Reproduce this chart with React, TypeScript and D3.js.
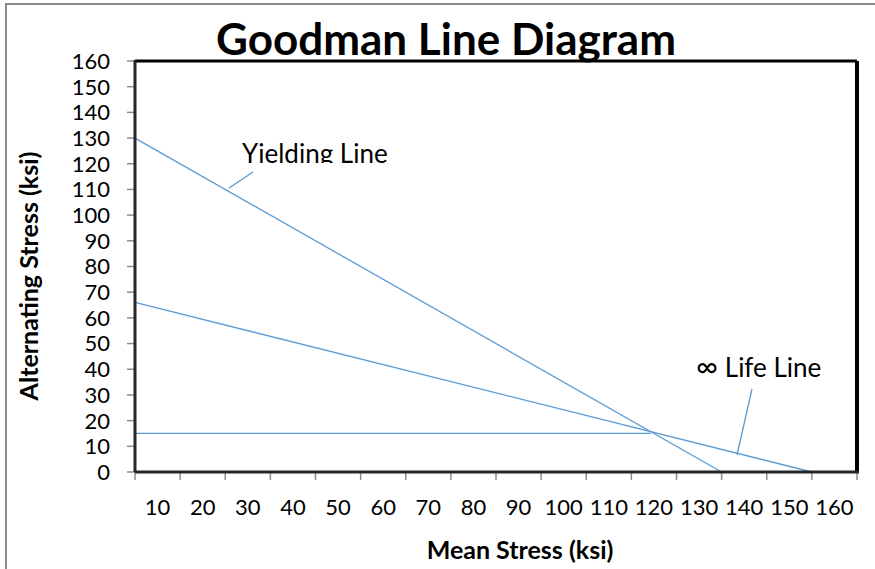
import * as d3 from 'd3';

// tick labels along the mean stress axis (sit between tick marks)
const xTickLabels = [10, 20, 30, 40, 50, 60, 70, 80, 90, 100, 110, 120, 130, 140, 150, 160];
const yTicks = [0, 10, 20, 30, 40, 50, 60, 70, 80, 90, 100, 110, 120, 130, 140, 150, 160];

// yielding line: Sa + Sm = Sy
const yieldingMean = [0, 130];
const yieldingAlt = [130, 0];
// goodman (infinite life) line
const goodmanMean = [0, 150];
const goodmanAlt = [66, 0];
// horizontal alternating stress line
const levelMean = [0, 114.3];
const levelAlt = [15, 15];

const W = 875;
const H = 569;
const margin = { top: 61, right: 18, bottom: 97, left: 135 };
const FONT = 'Lato, "Open Sans", sans-serif';
const BLUE = '#5b9bd5';

export default function App() {
  const x = d3.scaleLinear().domain([0, 160]).range([margin.left, W - margin.right]);
  const y = d3.scaleLinear().domain([0, 160]).range([H - margin.bottom, margin.top]);

  const line = (xs: number[], ys: number[]) =>
    d3.line<number>().x((d) => x(d)).y((_, i) => y(ys[i]))(xs) || '';

  const x0 = x(0);
  const x1 = x(160);
  const y0 = y(0);
  const y1 = y(160);
  const xTicks = d3.range(0, 170, 10);

  return (
    <svg
      width={W}
      height={H}
      style={{ position: 'absolute', left: 0, top: 0, background: '#fff' }}
      fontFamily={FONT}
    >
      <defs>
        <clipPath id="yclip">
          <rect x={200} y={100} width={250} height={63} />
        </clipPath>
      </defs>
      {/* chart area border */}
      <rect x={6} y={4} width={W + 20} height={H + 20} fill="#fff" stroke="#8c8c8c" strokeWidth={2} />

      {/* y ticks & labels */}
      {yTicks.map((t) => (
        <g key={`y${t}`}>
          <line x1={x0 - 8} x2={x0} y1={y(t)} y2={y(t)} stroke="#8c8c8c" strokeWidth={1.5} />
          <text x={110} y={y(t)} dy="0.36em" textAnchor="end" fontSize={22} fill="#000">
            {t}
          </text>
        </g>
      ))}

      {/* x ticks */}
      {xTicks.map((t) => (
        <line key={`xt${t}`} x1={x(t)} x2={x(t)} y1={y0} y2={y0 + 8} stroke="#8c8c8c" strokeWidth={1.5} />
      ))}
      {xTickLabels.map((t) => (
        <text key={`xl${t}`} x={x(t - 5)} y={515} textAnchor="middle" fontSize={22} fill="#000">
          {t}
        </text>
      ))}

      {/* series */}
      <path d={line(levelMean, levelAlt)} fill="none" stroke={BLUE} strokeWidth={1.3} />
      <path d={line(goodmanMean, goodmanAlt)} fill="none" stroke={BLUE} strokeWidth={1.3} />
      <path d={line(yieldingMean, yieldingAlt)} fill="none" stroke={BLUE} strokeWidth={1.3} />

      {/* plot frame */}
      <line x1={x0} x2={x1} y1={y1} y2={y1} stroke="#000" strokeWidth={3} />
      <line x1={x1} x2={x1} y1={y1} y2={y0} stroke="#000" strokeWidth={4} />
      <line x1={x0} x2={x1 + 2} y1={y0} y2={y0} stroke="#262626" strokeWidth={3} />
      <line x1={x0} x2={x0} y1={y1 - 1} y2={y0} stroke="#262626" strokeWidth={3} />

      {/* annotations */}
      <line x1={229} y1={188} x2={253} y2={172} stroke={BLUE} strokeWidth={1.3} />
      <text x={242} y={163} fontSize={26} fill="#000" clipPath="url(#yclip)">
        Yielding Line
      </text>
      <line x1={737} y1={455} x2={752} y2={389} stroke={BLUE} strokeWidth={1.3} />
      <text x={696} y={377} fontSize={26} fill="#000">
        <tspan fontSize={30}>∞</tspan> Life Line
      </text>

      {/* titles */}
      <text x={446} y={55} textAnchor="middle" fontSize={44} fontWeight="bold" fill="#000">
        Goodman Line Diagram
      </text>
      <text x={520} y={559} textAnchor="middle" fontSize={25} fontWeight="bold" fill="#000">
        Mean Stress (ksi)
      </text>
      <text
        transform={`translate(38, 276) rotate(-90)`}
        textAnchor="middle"
        fontSize={25}
        fontWeight="bold"
        fill="#000"
      >
        Alternating Stress (ksi)
      </text>
    </svg>
  );
}
